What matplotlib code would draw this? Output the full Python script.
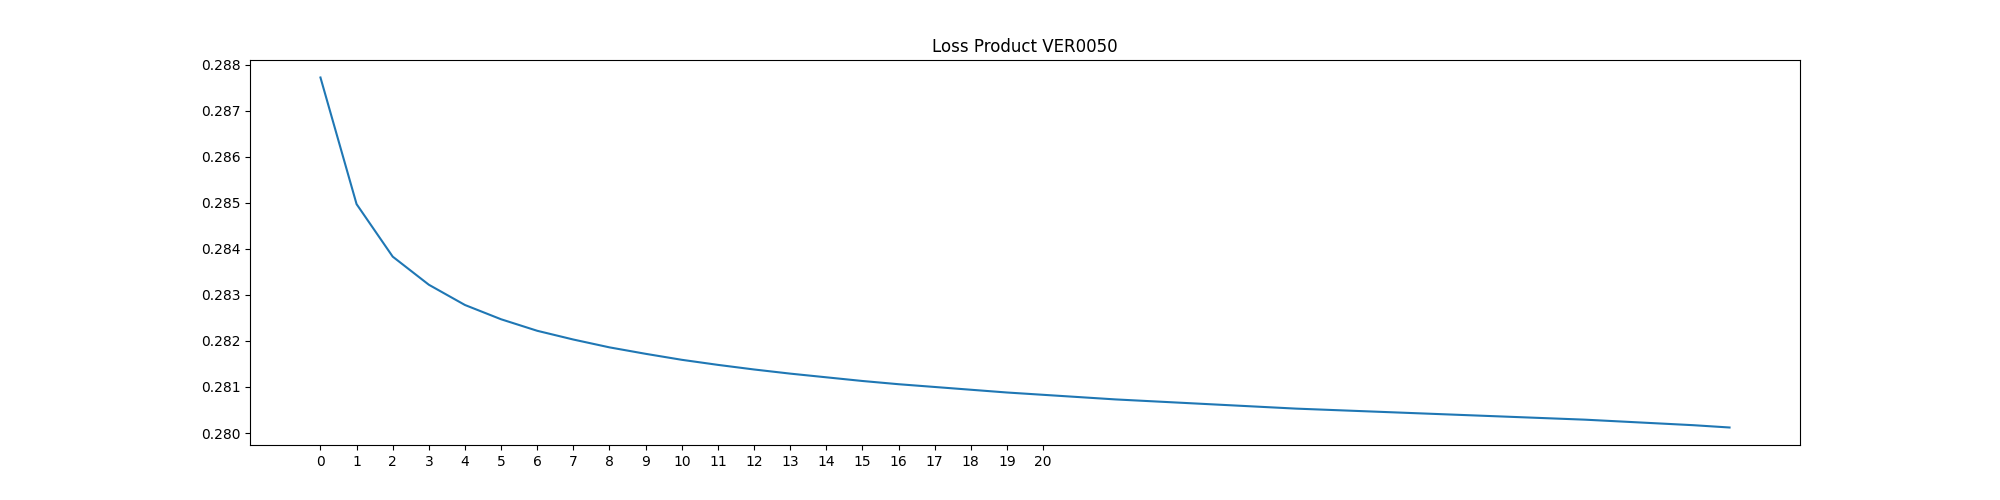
import matplotlib
matplotlib.use("Agg")
import matplotlib.pyplot as plt

epochs = list(range(40))
loss = [0.28772, 0.28497, 0.28383, 0.28322, 0.28278, 0.28247, 0.28222, 0.28203,
        0.28186, 0.28172, 0.28159, 0.28148, 0.28138, 0.28129, 0.28121, 0.28113,
        0.28106, 0.28100, 0.28094, 0.28088, 0.28083, 0.28078, 0.28073, 0.28069,
        0.28065, 0.28061, 0.28057, 0.28053, 0.28050, 0.28047, 0.28044, 0.28041,
        0.28038, 0.28035, 0.28032, 0.28029, 0.28025, 0.28021, 0.28017, 0.28012]
tick_labels = list(range(21))

fig, ax = plt.subplots(figsize=(20, 5), dpi=100)
ax.plot(epochs, loss)
ax.set_xticks(tick_labels)
ax.set_title("Loss Product VER0050")
fig.savefig("out.png")
